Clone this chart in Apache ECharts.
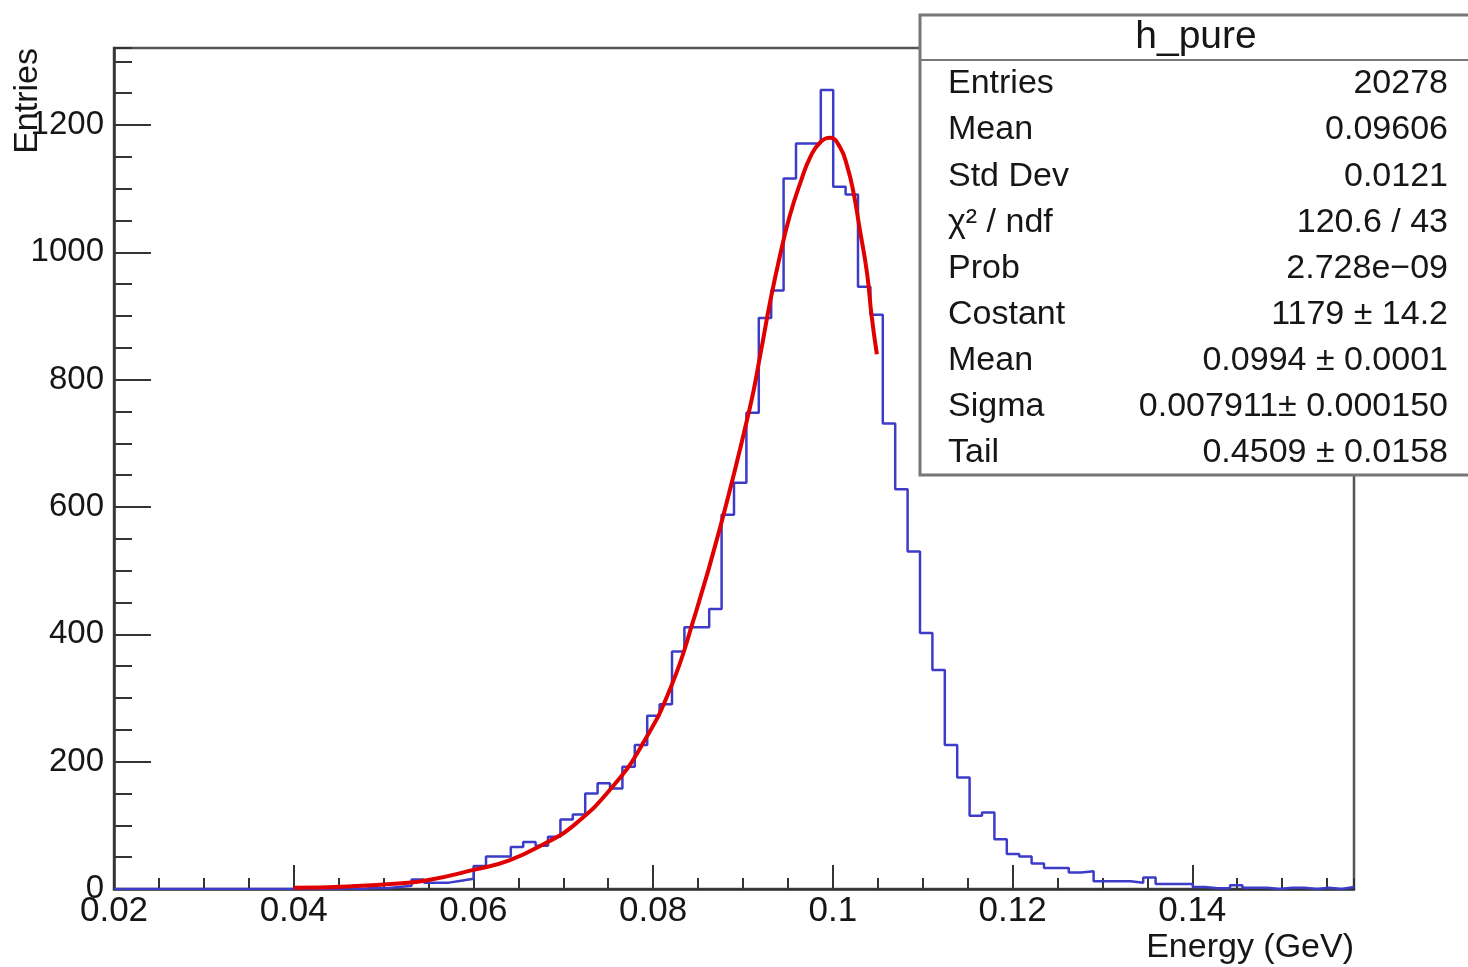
<!DOCTYPE html>
<html><head><meta charset="utf-8">
<script src="https://cdn.jsdelivr.net/npm/echarts@6/dist/echarts.min.js"></script>
<style>html,body{margin:0;padding:0;background:#fff}#chart{width:1468px;height:967px}</style>
</head><body><div id="chart"></div>
<script>
// ---- histogram binning ----
const xMin = 0.02;
const xMax = 0.158;
const nBins = 100;
// ---- bin contents ----
const binCounts = [
  0,0,0,0,0,0,0,0,0,0,
  0,0,0,0,0,0,0,0,1,0,
  2,1,3,5,15,10,10,13,16,36,
  51,51,66,74,68,82,109,117,150,166,
  158,192,226,272,290,373,411,411,440,588,
  638,748,897,940,1116,1171,1171,1255,1103,1091,
  946,902,731,628,530,402,344,226,175,115,
  120,78,55,51,40,33,33,26,28,12,
  12,12,10,18,8,8,8,3,1,1,
  6,2,2,0,2,2,0,2,0,3
];
// ---- fit curve ----
const fitX = [0.040,0.046,0.052,0.055,0.060,0.064,0.068,0.071,0.0755,0.079,0.082,0.0845,0.0875,0.0908,0.0919,0.0930,0.0941,0.0952,0.0964,0.0975,0.0986,0.0997,0.1008,0.1016,0.1023,0.1030,0.1038,0.1043,0.1049];
const fitY = [2,4,9,14,30,45,72,98,161,232,318,423,570,758,837,921,994,1057,1110,1150,1173,1180,1165,1135,1094,1036,968,902,840];
// ---- axes ----
const yMax = 1321;
const xTickStep = 0.02, xMinorStep = 0.005;
const yTickStep = 200, yMinorStep = 50;
const xTitle = 'Energy (GeV)';
const yTitle = 'Entries';
// ---- stats box ----
const statsTitle = 'h_pure';
const statsLabels = ['Entries','Mean','Std Dev','χ² / ndf','Prob','Costant','Mean','Sigma','Tail'];
const statsValues = ['20278','0.09606','0.0121','120.6 / 43','2.728e−09','1179 ± 14.2','0.0994 ± 0.0001','0.007911± 0.000150','0.4509 ± 0.0158'];

const FONT = '"Liberation Sans", Arial, Helvetica, sans-serif';
const TXT = '#161616';
const binW = (xMax - xMin) / nBins;
const histData = binCounts.map((v, k) => [xMin + k * binW, v]);
histData.push([xMax, binCounts[nBins - 1]]);
const fitData = fitX.map((x, i) => [x, fitY[i]]);

const chart = echarts.init(document.getElementById('chart'), null, {renderer: 'canvas'});
const fmtX = v => String(parseFloat(Number(v).toFixed(4)));
const fmtY = v => String(Math.round(v));

const statsGraphics = [
  {type: 'rect', shape: {x: 920, y: 15, width: 560, height: 460}, style: {fill: '#fff', stroke: '#777', lineWidth: 3}, z: 100},
  {type: 'line', shape: {x1: 920, y1: 60, x2: 1468, y2: 60}, style: {stroke: '#777', lineWidth: 2}, z: 101},
  {type: 'text', x: 1196, y: 37, style: {text: statsTitle, font: '39px ' + FONT, fill: TXT, align: 'center', verticalAlign: 'middle'}, z: 102}
];
statsLabels.forEach((lab, i) => {
  const y = 84 + i * 46.1;
  statsGraphics.push({type: 'text', x: 948, y: y, style: {text: lab, font: '34px ' + FONT, fill: TXT, align: 'left', verticalAlign: 'middle'}, z: 102});
  statsGraphics.push({type: 'text', x: 1448, y: y, style: {text: statsValues[i], font: '34px ' + FONT, fill: TXT, align: 'right', verticalAlign: 'middle'}, z: 102});
});

chart.setOption({
  animation: false,
  backgroundColor: '#fff',
  grid: {left: 114, top: 48, right: 114, bottom: 78, show: true, borderColor: '#555', borderWidth: 2.5, backgroundColor: 'transparent'},
  xAxis: [
    {type: 'value', min: xMin, max: xMax, interval: xTickStep, position: 'bottom',
     axisLine: {show: true, lineStyle: {color: '#333', width: 2.5}},
     axisTick: {show: true, inside: true, length: 24, lineStyle: {color: '#333', width: 2}},
     axisLabel: {show: true, margin: 5, fontSize: 35, fontFamily: FONT, color: TXT, showMaxLabel: false, formatter: fmtX},
     splitLine: {show: false}},
    {type: 'value', min: xMin, max: xMax, interval: xMinorStep, position: 'bottom', offset: 0,
     axisLine: {show: false},
     axisTick: {show: true, inside: true, length: 11, lineStyle: {color: '#333', width: 2}},
     axisLabel: {show: false}, splitLine: {show: false}}
  ],
  yAxis: [
    {type: 'value', min: 0, max: yMax, interval: yTickStep, position: 'left',
     axisLine: {show: true, lineStyle: {color: '#333', width: 2.5}},
     axisTick: {show: true, inside: true, length: 37, lineStyle: {color: '#333', width: 2}},
     axisLabel: {show: true, margin: 10, fontSize: 33, fontFamily: FONT, color: TXT, showMaxLabel: false, formatter: fmtY},
     splitLine: {show: false}},
    {type: 'value', min: 0, max: yMax, interval: yMinorStep, position: 'left', offset: 0,
     axisLine: {show: false},
     axisTick: {show: true, inside: true, length: 18, lineStyle: {color: '#333', width: 2}},
     axisLabel: {show: false}, splitLine: {show: false}}
  ],
  series: [
    {type: 'line', name: 'h_pure', xAxisIndex: 0, yAxisIndex: 0, data: histData, step: 'end', symbol: 'none',
     lineStyle: {color: '#3c3cc8', width: 2.5}, z: 3},
    {type: 'line', name: 'fit', xAxisIndex: 0, yAxisIndex: 0, data: fitData, smooth: 0.5, symbol: 'none',
     lineStyle: {color: '#e00000', width: 4}, z: 4}
  ],
  graphic: [
    {type: 'text', x: 28, y: 48, rotation: Math.PI / 2, style: {text: yTitle, font: '34px ' + FONT, fill: TXT, align: 'right', verticalAlign: 'middle'}, z: 50},
    {type: 'text', x: 1354, y: 948, style: {text: xTitle, font: '34px ' + FONT, fill: TXT, align: 'right', verticalAlign: 'middle'}, z: 50}
  ].concat(statsGraphics)
});
</script></body></html>
